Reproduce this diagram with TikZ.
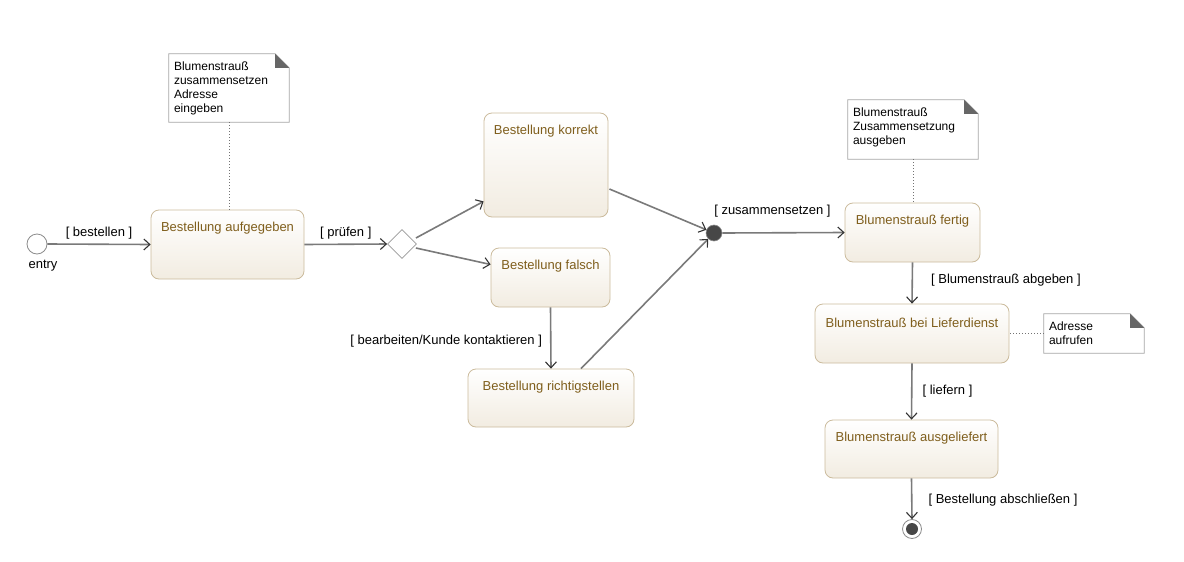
\documentclass[tikz,border=0pt]{standalone}
\usepackage{fontspec}
\setmainfont{Liberation Sans}
\usetikzlibrary{positioning}
\usetikzlibrary{calc}
\usetikzlibrary{shapes.geometric,arrows.meta}
\definecolor{statefg}{HTML}{7F5E1C}
\definecolor{stateline}{HTML}{CBBB9C}
\definecolor{statebot}{HTML}{F2ECE1}
\definecolor{edgegray}{HTML}{7A7A7A}
\tikzstyle{state}=[rectangle,rounded corners=8pt,draw=stateline,line width=0.8pt,top color=white,bottom color=statebot,inner sep=0pt]
\tikzstyle{statetext}=[font=\fontsize{13}{15}\selectfont,text=statefg,inner sep=0pt]
\tikzstyle{initial}=[circle,draw=black!45,fill=white,line width=0.8pt,minimum size=20pt,inner sep=0pt]
\tikzstyle{choice}=[diamond,draw=black!40,fill=white,line width=0.8pt,minimum width=29pt,minimum height=29pt,inner sep=0pt]
\tikzstyle{junction}=[circle,draw=black!45,fill=black!72,line width=0.6pt,minimum size=16pt,inner sep=0pt]
\tikzstyle{final}=[circle,draw=black!45,fill=white,line width=0.8pt,minimum size=19pt,inner sep=0pt]
\tikzstyle{finaldot}=[circle,fill=black!72,minimum size=12pt,inner sep=0pt]
\tikzstyle{note}=[rectangle,inner sep=0pt]
\tikzstyle{noteline}=[draw=black!35,fill=white,line width=0.8pt]
\tikzstyle{notefold}=[fill=black!60]
\tikzstyle{notetext}=[font=\fontsize{12}{14}\selectfont,align=left,inner sep=0pt,anchor=north west]
\tikzstyle{transition}=[draw=edgegray,line width=1.6pt,-{Straight Barb[length=6pt,width=11pt,line width=1.1pt,color=black!80]}]
\tikzstyle{noteedge}=[draw=black!55,dotted,line width=1pt]
\tikzstyle{weight}=[font=\fontsize{13}{15}\selectfont,inner sep=0pt]

\begin{document}
\begin{tikzpicture}[x=1pt,y=-1pt]
    \useasboundingbox (0,0) rectangle (1184,562);

    \foreach \pos/\name/\w/\h/\label in {{(227.5,244.5)/s1/153/69/Bestellung aufgegeben}, {(546,165)/korrekt/124/104/Bestellung korrekt},
        {(550.5,277.5)/falsch/119/59/Bestellung falsch}, {(551,398)/richtig/166/58/Bestellung richtigstellen},
        {(912.5,232.5)/fertig/135/59/Blumenstrauß fertig}, {(912,333.5)/liefer/194/59/Blumenstrauß bei Lieferdienst},
        {(911.5,449)/ausgel/173/58/Blumenstrauß ausgeliefert}}
    {
        \node[state, minimum width=\w pt, minimum height=\h pt] (\name) at \pos {};
        \node[statetext] (\name-t) at ($(\name.north)+(0,19)$) {\label};
    }

    \node[initial] (entry) at (37,244) {};
    \node[weight] (entry-t) at (43,266) {entry};
    \node[choice] (dia) at (402,244) {};
    \node[junction] (junc) at (714,233) {};
    \node[final] (final) at (912,529) {};
    \node[finaldot] (final-dot) at (final) {};

    \foreach \pos/\name/\w/\h/\label in {{(229,88)/n1/120/68/{Blumenstrauß\\zusammensetzen\\Adresse\\eingeben}},
        {(913,129.5)/n2/130/59/{Blumenstrauß\\Zusammensetzung\\ausgeben}}, {(1094,333.5)/n3/100/39/{Adresse\\aufrufen}}}
    {
        \node[note, minimum width=\w pt, minimum height=\h pt] (\name) at \pos {};
        \path[noteline] (\name.north west) -- ($(\name.north east)+(-14,0)$) -- ($(\name.north east)+(0,14)$) -- (\name.south east) -- (\name.south west) -- cycle;
        \path[notefold] ($(\name.north east)+(-14,0)$) -- ($(\name.north east)+(-14,14)$) -- ($(\name.north east)+(0,14)$) -- cycle;
        \node[notetext] (\name-t) at ($(\name.north west)+(5,8)$) {\label};
    }

    \path[noteedge] (n1.south) -- (n1.south |- s1.north);
    \path[noteedge] (n2.south) -- (n2.south |- fertig.north);
    \path[noteedge] (n3.west) -- (liefer.east);

    \foreach \source/\dest/\weight/\anc/\dx/\dy/\p in {{entry.east/s1.west/{[ bestellen ]}/south/0/4.5/0.5}, {s1.east/dia.west/{[ prüfen ]}/south/0/4.5/0.5},
        {junc.east/fertig.west/{[ zusammensetzen ]}/south/0/14.5/0.41}, {falsch.south/richtig.north/{[ bearbeiten/Kunde kontaktieren ]}/east/-8/-1.5/0.52},
        {fertig.south/liefer.north/{[ Blumenstrauß abgeben ]}/west/18/-2/0.38}, {liefer.south/ausgel.north/{[ liefern ]}/west/10/-2/0.46},
        {ausgel.south/final.north/{[ Bestellung abschließen ]}/west/16/-2/0.48}}
        \path[transition] (\source) -- node[weight, anchor=\anc, xshift=\dx pt, yshift=\dy pt, pos=\p] {\weight} (\dest);

    \path[transition] ($(dia.east)+(-1,-6)$) -- ($(korrekt.south west)+(0,-16)$);
    \path[transition] ($(dia.east)+(-1,4)$) -- ($(falsch.west)+(0,-13)$);
    \path[transition] ($(korrekt.east)+(1,24)$) -- (junc);
    \path[transition] ($(richtig.north)+(30,0)$) -- (junc);

\end{tikzpicture}
\end{document}
